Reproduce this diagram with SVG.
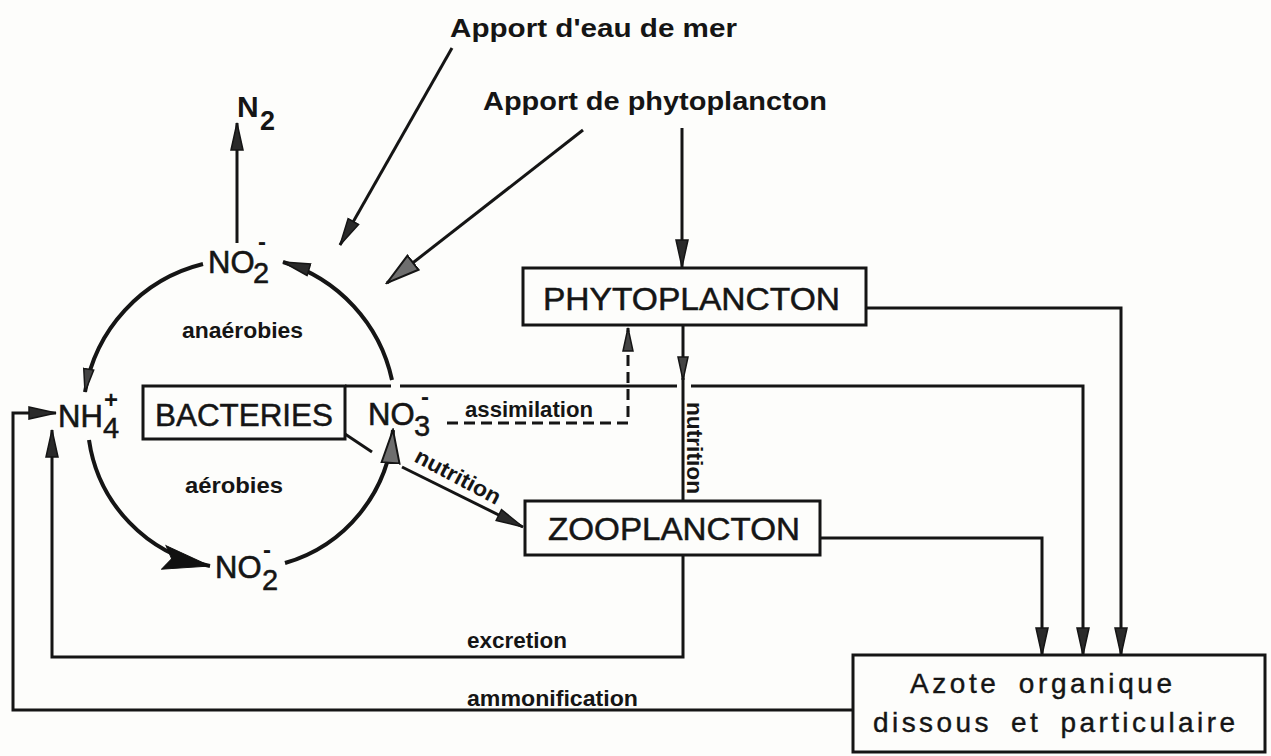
<svg xmlns="http://www.w3.org/2000/svg" width="1271" height="756" viewBox="0 0 1271 756">
<style>
text{font-family:"Liberation Sans",Arial,sans-serif;fill:#151515}
.t{font-size:26px;font-weight:bold}
.chem{font-size:31px;stroke:#151515;stroke-width:0.6}
.sub{font-size:29px;stroke:#151515;stroke-width:0.5}
.sup{font-size:24px;font-weight:bold}
.lbl{font-size:22px;font-weight:bold}
.box{fill:none;stroke:#151515;stroke-width:3}
.big{font-size:31px;stroke:#151515;stroke-width:0.5}
.az{font-size:28px;stroke:#151515;stroke-width:0.4;word-spacing:8px}
.ln{fill:none;stroke:#151515;stroke-width:3}
.arc{fill:none;stroke:#151515;stroke-width:4}
.dash{fill:none;stroke:#151515;stroke-width:3;stroke-dasharray:11 6}
</style>
<defs>
<marker id="ah" markerUnits="userSpaceOnUse" markerWidth="30" markerHeight="16" refX="28" refY="7" orient="auto" viewBox="0 0 30 14">
<path d="M1,1 L28,7 L1,13 Z" fill="#2a2a2a" stroke="#151515" stroke-width="1.5"/>
</marker>
<marker id="ahg" markerUnits="userSpaceOnUse" markerWidth="36" markerHeight="22" refX="34" refY="10" orient="auto" viewBox="0 0 36 20">
<path d="M1,1 L34,10 L1,19 Z" fill="#6e6e6e" stroke="#151515" stroke-width="2"/>
</marker>
<marker id="ahs" markerUnits="userSpaceOnUse" markerWidth="26" markerHeight="14" refX="24" refY="6" orient="auto" viewBox="0 0 26 12">
<path d="M1,1 L24,6 L1,11 Z" fill="#444" stroke="#151515" stroke-width="1.5"/>
</marker>
<marker id="ahbig" markerUnits="userSpaceOnUse" markerWidth="50" markerHeight="28" refX="48" refY="13" orient="auto" viewBox="0 0 50 26">
<path d="M1,1 L48,13 L1,25 L9,13 Z" fill="#111" stroke="#111" stroke-width="1"/>
</marker>
</defs>
<rect width="1271" height="756" fill="#fdfdfb"/>

<g id="connectors">
<!-- inputs -->
<path class="ln" d="M452,48 L340,245" marker-end="url(#ah)"/>
<path class="ln" d="M583,130 L387,283" marker-end="url(#ahg)"/>
<path class="ln" d="M682,128 L682,267" marker-end="url(#ah)"/>
<!-- N2 -->
<path class="ln" d="M237,243 L237,123" marker-end="url(#ah)"/>
<!-- bacterial cycle -->
<path class="arc" d="M203,264 A158,158 0 0 0 85,392" marker-end="url(#ahs)"/>
<path class="arc" d="M392,380 A158,158 0 0 0 283,262" marker-end="url(#ah)"/>
<path class="arc" d="M89,440 A150,150 0 0 0 210,566" marker-end="url(#ahbig)"/>
<path class="arc" d="M285,563 A150,150 0 0 0 393,430" marker-end="url(#ahg)"/>
<!-- bacteria line -->
<path class="ln" d="M345,386 H391"/>
<path class="ln" d="M400,386 H677"/>
<path class="ln" d="M691,386 H1083 V655" marker-end="url(#ah)"/>
<path class="ln" d="M345,434 L372,452"/>
<!-- assimilation -->
<path class="dash" d="M447,423 H628 V328" marker-end="url(#ahs)"/>
<!-- nutrition vertical -->
<path class="ln" d="M683,325 V380" marker-end="url(#ahs)"/>
<path class="ln" d="M683,378 V500"/>
<!-- nutrition diagonal -->
<path class="ln" d="M402,467 L523,527" marker-end="url(#ah)"/>
<!-- to Azote -->
<path class="ln" d="M866,308 H1121 V655" marker-end="url(#ah)"/>
<path class="ln" d="M820,538 H1042 V655" marker-end="url(#ah)"/>
<!-- excretion -->
<path class="ln" d="M683,555 V657 H52 V430" marker-end="url(#ah)"/>
<!-- ammonification -->
<path class="ln" d="M853,710 H13 V413 H56" marker-end="url(#ah)"/>
<!-- labels on connectors -->
<text class="lbl" x="465" y="417" textLength="128" lengthAdjust="spacingAndGlyphs">assimilation</text>
<text class="lbl" transform="translate(687,402) rotate(90)" textLength="92" lengthAdjust="spacingAndGlyphs">nutrition</text>
<text class="lbl" transform="translate(413,461) rotate(28)" textLength="94" lengthAdjust="spacingAndGlyphs">nutrition</text>
<text class="lbl" x="467" y="648" textLength="100" lengthAdjust="spacingAndGlyphs">excretion</text>
<text class="lbl" x="467" y="706" textLength="171" lengthAdjust="spacingAndGlyphs">ammonification</text>
<text class="lbl" x="182" y="338" textLength="121" lengthAdjust="spacingAndGlyphs">anaérobies</text>
<text class="lbl" x="185" y="493" textLength="98" lengthAdjust="spacingAndGlyphs">aérobies</text>
</g>

<g id="apport-eau">
<text class="t" x="450" y="37" textLength="287" lengthAdjust="spacingAndGlyphs">Apport d'eau de mer</text>
</g>
<g id="apport-phyto">
<text class="t" x="483" y="110" textLength="344" lengthAdjust="spacingAndGlyphs">Apport de phytoplancton</text>
</g>

<g id="n2">
<text x="237" y="117" style="font-size:30px;font-weight:bold">N</text>
<text x="260" y="130" style="font-size:27px;font-weight:bold">2</text>
</g>

<g id="no2-top">
<text class="chem" x="208" y="273">NO</text>
<text class="sub" x="253" y="283">2</text>
<text class="sup" x="258" y="250">-</text>
</g>

<g id="nh4">
<text class="chem" x="58" y="427">NH</text>
<text class="sub" x="103" y="438">4</text>
<text class="sup" x="104" y="408">+</text>
</g>

<g id="bacteries">
<rect class="box" x="143" y="386" width="202" height="53"/>
<text class="big" x="155" y="426" textLength="178" lengthAdjust="spacingAndGlyphs">BACTERIES</text>
</g>

<g id="no3">
<text class="chem" x="368" y="425">NO</text>
<text class="sub" x="414" y="436">3</text>
<text class="sup" x="421" y="405">-</text>
</g>

<g id="no2-bottom">
<text class="chem" x="215" y="578">NO</text>
<text class="sub" x="262" y="590">2</text>
<text class="sup" x="263" y="558">-</text>
</g>

<g id="phytoplancton">
<rect class="box" x="523" y="268" width="343" height="57"/>
<text class="big" x="543" y="310" textLength="297" lengthAdjust="spacingAndGlyphs">PHYTOPLANCTON</text>
</g>

<g id="zooplancton">
<rect class="box" x="525" y="501" width="295" height="54"/>
<text class="big" x="548" y="540" textLength="252" lengthAdjust="spacingAndGlyphs">ZOOPLANCTON</text>
</g>

<g id="azote">
<rect class="box" x="853" y="655" width="412" height="97"/>
<text class="az" x="910" y="693" textLength="262" lengthAdjust="spacing">Azote organique</text>
<text class="az" x="873" y="732" textLength="362" lengthAdjust="spacing">dissous et particulaire</text>
</g>
</svg>
